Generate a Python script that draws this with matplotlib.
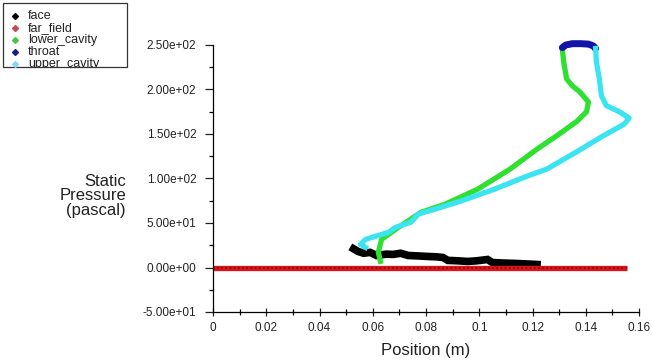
import matplotlib
matplotlib.use('Agg')
import matplotlib.pyplot as plt
from matplotlib.ticker import MultipleLocator, FormatStrFormatter, FuncFormatter
from matplotlib.patches import Rectangle
from matplotlib.transforms import Bbox, TransformedBbox

plt.rcParams['font.family'] = ['Liberation Sans', 'DejaVu Sans']

# data (position in m, static pressure in Pa)
face_x = [0.0528, 0.0545, 0.0566, 0.0590, 0.0614, 0.0650, 0.0677, 0.0705, 0.0733,
          0.0770, 0.0807, 0.0840, 0.0863, 0.0882, 0.0920, 0.0956, 0.0990, 0.1031,
          0.1049, 0.1090, 0.1142, 0.1217]
face_y = [21, 18, 16, 17, 13.5, 15, 14.7, 16, 13.5, 13, 12.4, 12, 11.3, 8, 7.5,
          6.8, 7.5, 9, 5.6, 5, 4.5, 3.4]

far_x = [0.0, 0.1555]
far_y = [0.0, 0.0]

lower_x = [0.1312, 0.1317, 0.1328, 0.1350, 0.1377, 0.1410, 0.1403, 0.1366, 0.1291,
           0.1217, 0.1116, 0.0994, 0.0871, 0.0781, 0.0696, 0.0633, 0.0621, 0.0629]
lower_y = [246, 231, 212, 204, 197.5, 186, 175, 164, 148, 133, 110.6, 88, 71, 62,
           45, 31.6, 17, 7]

throat_x = [0.1312, 0.1325, 0.1350, 0.1380, 0.1410, 0.1428, 0.1437]
throat_y = [247, 250, 251.5, 251.5, 251, 249, 246]

upper_x = [0.1437, 0.1440, 0.1451, 0.1459, 0.1477, 0.1526, 0.1563, 0.1544, 0.1466,
           0.1366, 0.1254, 0.1180, 0.1057, 0.0930, 0.0834, 0.0770, 0.0759, 0.0744,
           0.0685, 0.0659, 0.0573, 0.0554, 0.0573]
upper_y = [246, 231, 212, 193, 182, 175, 168, 161, 148, 130, 110.6, 102.7, 88, 74.5,
           65.5, 60, 56, 51, 45, 39.5, 31.6, 26, 22.6]

legend_names = ['face', 'far_field', 'lower_cavity', 'throat', 'upper_cavity']
legend_colors = ['#000000', '#c84848', '#44c844', '#1c1c88', '#88d8f0']

W, H = 652, 361
fig = plt.figure(figsize=(W / 100, H / 100), dpi=100)
ax = fig.add_axes([213 / W, 1 - 312 / H, 426 / W, 267 / H])

ax.plot(face_x, face_y, color='black', lw=5.5, solid_joinstyle='miter', clip_on=False)
ax.plot(far_x, far_y, color='#d8141c', lw=3.8, solid_capstyle='butt', clip_on=False)
ax.plot(far_x, far_y, color='#900000', lw=1.2, linestyle=(0, (1, 1.5)), clip_on=False)
ax.plot(lower_x, lower_y, color='#30e030', lw=3.8, clip_on=False)
ax.plot(throat_x, throat_y, color='#1414a8', lw=5, solid_capstyle='round', clip_on=False)
ax.plot(upper_x, upper_y, color='#3ce4f2', lw=3.8, clip_on=False)

ax.set_xlim(0, 0.16)
ax.set_ylim(-50, 250)
ax.xaxis.set_major_locator(MultipleLocator(0.02))
ax.xaxis.set_minor_locator(MultipleLocator(0.01))
ax.yaxis.set_major_locator(MultipleLocator(50))
ax.yaxis.set_minor_locator(MultipleLocator(25))
ax.xaxis.set_major_formatter(FuncFormatter(lambda v, p: '%g' % round(v, 4)))
ax.yaxis.set_major_formatter(FormatStrFormatter('%.2e'))

for s in ['top', 'right']:
    ax.spines[s].set_visible(False)
ax.spines['left'].set_linewidth(0.9)
ax.spines['bottom'].set_linewidth(0.9)
ax.tick_params(axis='y', which='major', direction='out', length=6, width=0.9,
               labelsize=8.5, colors='#222222', pad=6)
ax.tick_params(axis='y', which='minor', direction='out', length=3, width=0.9)
ax.tick_params(axis='x', which='major', direction='inout', length=6, width=0.9,
               labelsize=8.5, colors='#222222', pad=4)
ax.tick_params(axis='x', which='minor', direction='inout', length=4, width=0.9)

ax.set_xlabel('Position (m)', fontsize=12, color='#222222', labelpad=7)
fig.text(126 / W, 1 - 196 / H, 'Static\nPressure\n(pascal)', ha='right', va='center',
         fontsize=12, color='#222222', linespacing=1.0)

# legend box in the top-left corner, last entry cut off like the original
box = Bbox.from_extents(3 / W, 1 - 67 / H, 127 / W, 1 - 3 / H)
fig.patches.append(Rectangle((box.x0, box.y0), box.width, box.height,
                             transform=fig.transFigure, fill=False, lw=0.9,
                             edgecolor='#333333'))
clip = TransformedBbox(box, fig.transFigure)
for i, (name, col) in enumerate(zip(legend_names, legend_colors)):
    yy = 1 - (16 + 12 * i) / H
    fig.lines.append(plt.Line2D([15 / W], [yy], marker='D', markersize=3,
                                color=col, transform=fig.transFigure, clip_box=clip))
    t = fig.text(28 / W, yy, name, fontsize=9, va='center', ha='left', color='#222222')
    t.set_clip_box(clip)
    t.set_clip_on(True)

fig.savefig('out.png', dpi=100)
